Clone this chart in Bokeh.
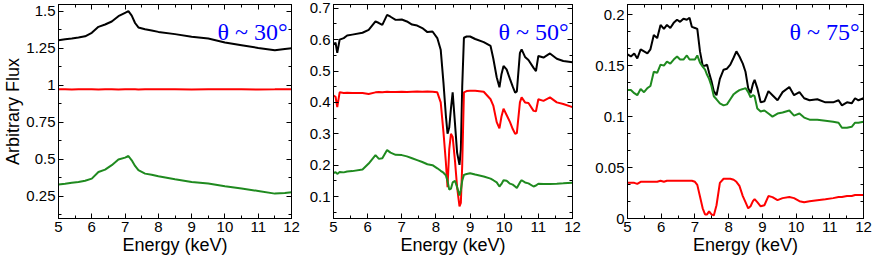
import numpy as np
from bokeh.plotting import figure
from bokeh.layouts import row
from bokeh.models import Range1d, LinearAxis, FixedTicker, Label, CustomJSTickFormatter
from bokeh.embed import file_html
from bokeh.resources import INLINE

# ---------------- data ----------------
# Panel 1: theta ~ 30 deg
energy_30 = [5.0, 5.2, 5.4, 5.6, 5.8, 6.0, 6.2, 6.4, 6.6, 6.8, 7.0, 7.1, 7.2, 7.3, 7.4,
             7.6, 7.8, 8.0, 8.5, 9.0, 9.5, 10.0, 10.5, 11.0, 11.5, 11.8, 12.0]
black_30 = [1.304, 1.31, 1.315, 1.322, 1.33, 1.354, 1.394, 1.41, 1.43, 1.466, 1.489, 1.5, 1.47,
            1.42, 1.39, 1.378, 1.37, 1.36, 1.345, 1.327, 1.315, 1.288, 1.27, 1.252, 1.236, 1.245, 1.25]
red_30 = [0.972, 0.973, 0.971, 0.972, 0.973, 0.972, 0.971, 0.972, 0.973, 0.971, 0.972, 0.972, 0.973,
          0.972, 0.971, 0.972, 0.973, 0.972, 0.972, 0.971, 0.972, 0.973, 0.972, 0.971, 0.972, 0.973, 0.972]
green_30 = [0.329, 0.335, 0.342, 0.347, 0.355, 0.369, 0.414, 0.43, 0.46, 0.498, 0.511, 0.522, 0.493,
            0.455, 0.426, 0.403, 0.395, 0.385, 0.365, 0.347, 0.336, 0.318, 0.302, 0.286, 0.268, 0.272, 0.277]

# Panel 2: theta ~ 50 deg
energy_50 = [5.0, 5.06, 5.11, 5.18, 5.3, 5.4, 5.55, 5.85, 6.03, 6.23, 6.33, 6.43, 6.57, 6.67, 6.82,
             7.0, 7.15, 7.3, 7.45, 7.6, 7.75, 7.9, 8.04, 8.14, 8.22, 8.29, 8.34, 8.39, 8.44, 8.49,
             8.56, 8.62, 8.69, 8.73, 8.77, 8.82, 8.9, 9.0, 9.15, 9.4, 9.6, 9.68, 9.78, 9.86, 9.92,
             9.98, 10.07, 10.17, 10.25, 10.32, 10.37, 10.46, 10.51, 10.61, 10.71, 10.86, 10.93,
             11.0, 11.15, 11.34, 11.54, 11.73, 12.0]
black_50 = [0.585, 0.59, 0.558, 0.60, 0.605, 0.613, 0.616, 0.622, 0.631, 0.658, 0.653, 0.647, 0.679,
            0.673, 0.663, 0.664, 0.658, 0.648, 0.645, 0.637, 0.624, 0.626, 0.605, 0.568, 0.464,
            0.359, 0.30, 0.32, 0.38, 0.432, 0.33, 0.24, 0.201, 0.25, 0.45, 0.606, 0.61, 0.61,
            0.602, 0.592, 0.58, 0.54, 0.48, 0.448, 0.49, 0.516, 0.505, 0.474, 0.45, 0.431, 0.435,
            0.558, 0.569, 0.545, 0.535, 0.51, 0.50, 0.548, 0.543, 0.556, 0.539, 0.532, 0.528]
red_50 = [0.422, 0.418, 0.385, 0.432, 0.43, 0.431, 0.43, 0.43, 0.427, 0.432, 0.433, 0.432, 0.434,
          0.433, 0.433, 0.434, 0.433, 0.434, 0.435, 0.434, 0.435, 0.434, 0.432, 0.40, 0.306, 0.211,
          0.13, 0.25, 0.30, 0.29, 0.211, 0.13, 0.069, 0.08, 0.20, 0.432, 0.436, 0.437, 0.437, 0.434,
          0.41, 0.39, 0.337, 0.317, 0.355, 0.38, 0.36, 0.337, 0.315, 0.30, 0.302, 0.40, 0.416, 0.40,
          0.398, 0.373, 0.372, 0.41, 0.405, 0.416, 0.40, 0.395, 0.385]
green_50 = [0.175, 0.178, 0.172, 0.178, 0.177, 0.18, 0.181, 0.186, 0.205, 0.232, 0.22, 0.222, 0.248,
            0.24, 0.233, 0.232, 0.228, 0.222, 0.216, 0.21, 0.203, 0.2, 0.19, 0.182, 0.176, 0.168,
            0.15, 0.122, 0.125, 0.145, 0.15, 0.13, 0.103, 0.12, 0.15, 0.169, 0.172, 0.174, 0.17,
            0.164, 0.157, 0.152, 0.145, 0.132, 0.14, 0.152, 0.15, 0.141, 0.138, 0.132, 0.127, 0.145,
            0.152, 0.145, 0.142, 0.132, 0.135, 0.141, 0.14, 0.14, 0.141, 0.142, 0.144]

# Panel 3: theta ~ 75 deg
energy_75 = [5.0, 5.1, 5.2, 5.29, 5.39, 5.49, 5.59, 5.68, 5.78, 5.88, 5.98, 6.08, 6.17, 6.27, 6.37,
             6.47, 6.56, 6.66, 6.76, 6.84, 6.91, 7.0, 7.07, 7.15, 7.23, 7.3, 7.36, 7.42, 7.49, 7.56,
             7.64, 7.74, 7.85, 7.95, 8.05, 8.15, 8.23, 8.32, 8.42, 8.5, 8.58, 8.65, 8.72, 8.77, 8.85,
             8.95, 9.06, 9.18, 9.3, 9.45, 9.6, 9.8, 9.94, 10.1, 10.24, 10.4, 10.63, 10.87, 11.1,
             11.26, 11.36, 11.51, 11.65, 11.75, 11.85, 12.0]
black_75 = [0.161, 0.159, 0.162, 0.157, 0.166, 0.164, 0.162, 0.166, 0.18, 0.177, 0.19, 0.186, 0.19,
            0.187, 0.192, 0.195, 0.193, 0.196, 0.195, 0.197, 0.188, 0.187, 0.186, 0.164, 0.15, 0.15,
            0.151, 0.143, 0.135, 0.125, 0.121, 0.137, 0.146, 0.147, 0.151, 0.158, 0.164, 0.159,
            0.152, 0.144, 0.128, 0.123, 0.132, 0.136, 0.128, 0.114, 0.115, 0.125, 0.121, 0.116,
            0.124, 0.129, 0.121, 0.124, 0.118, 0.116, 0.117, 0.114, 0.114, 0.116, 0.111, 0.114,
            0.113, 0.118, 0.116, 0.118]
green_75 = [0.126, 0.126, 0.123, 0.121, 0.127, 0.124, 0.128, 0.13, 0.144, 0.143, 0.151, 0.15, 0.154,
            0.152, 0.156, 0.159, 0.156, 0.156, 0.16, 0.156, 0.156, 0.156, 0.16, 0.153, 0.149, 0.146,
            0.141, 0.137, 0.13, 0.12, 0.117, 0.113, 0.111, 0.112, 0.117, 0.122, 0.124, 0.126, 0.127,
            0.128, 0.124, 0.119, 0.121, 0.12, 0.108, 0.105, 0.106, 0.103, 0.10, 0.103, 0.104, 0.106,
            0.101, 0.103, 0.099, 0.097, 0.097, 0.096, 0.095, 0.094, 0.089, 0.089, 0.09, 0.094,
            0.094, 0.095]
red_75 = [0.035, 0.035, 0.035, 0.034, 0.036, 0.036, 0.036, 0.036, 0.036, 0.036, 0.037, 0.036, 0.037,
          0.037, 0.037, 0.037, 0.037, 0.037, 0.037, 0.037, 0.037, 0.036, 0.033, 0.0215, 0.01, 0.004,
          0.004, 0.007, 0.004, 0.003, 0.013, 0.035, 0.039, 0.039, 0.039, 0.038, 0.036, 0.032, 0.022,
          0.016, 0.01, 0.012, 0.017, 0.019, 0.016, 0.012, 0.013, 0.022, 0.021, 0.018, 0.02, 0.021,
          0.02, 0.017, 0.016, 0.017, 0.018, 0.019, 0.02, 0.021, 0.021, 0.022, 0.022, 0.023, 0.023,
          0.023]

titles = ["\u03b8 ~ 30\u00b0", "\u03b8 ~ 50\u00b0", "\u03b8 ~ 75\u00b0"]
y_ranges = [(0.1, 1.545), (0.03, 0.712), (0.0, 0.21)]
y_ticks = [[0.25, 0.5, 0.75, 1.0, 1.25, 1.5],
           [0.1, 0.2, 0.3, 0.4, 0.5, 0.6, 0.7],
           [0.0, 0.05, 0.1, 0.15, 0.2]]
y_minor_steps = [0.125, 0.05, 0.05 / 3]
x_ticks = [5, 6, 7, 8, 9, 10, 11, 12]

FONT = "Liberation Sans"
C_BLACK = "#000000"
C_RED = "#FF0000"
C_GREEN = "#1F8A1F"

fmt_js = "return String(parseFloat(tick.toFixed(4)));"

widths = [305, 287, 280]
borders = [(52, 14), (28, 20), (33, 9)]
H = 262


def style_axis(ax, show_labels):
    ax.axis_line_color = "black"
    ax.axis_line_width = 1
    ax.major_tick_in = 5
    ax.major_tick_out = 0
    ax.minor_tick_in = 3
    ax.minor_tick_out = 0
    ax.major_tick_line_color = "black"
    ax.minor_tick_line_color = "black"
    if show_labels:
        ax.major_label_text_font = FONT
        ax.major_label_text_font_size = "15px"
        ax.major_label_text_color = "black"
        ax.major_label_standoff = 3
        ax.formatter = CustomJSTickFormatter(code=fmt_js)
    else:
        ax.major_label_text_font_size = "1px"
        ax.major_label_standoff = 0
        ax.formatter = CustomJSTickFormatter(code="return '';")


panels = [(energy_30, black_30, red_30, green_30),
          (energy_50, black_50, red_50, green_50),
          (energy_75, black_75, red_75, green_75)]

figs = []
for i, (E, blk, red, grn) in enumerate(panels):
    y0, y1 = y_ranges[i]
    p = figure(width=widths[i], height=H, x_range=Range1d(5, 12), y_range=Range1d(y0, y1),
               output_backend="svg", toolbar_location=None,
               min_border_left=borders[i][0], min_border_right=borders[i][1],
               min_border_top=4, min_border_bottom=44)
    p.xgrid.visible = False
    p.ygrid.visible = False
    p.outline_line_color = "black"
    p.outline_line_width = 1
    p.background_fill_color = "white"
    p.border_fill_color = "white"

    yt = y_ticks[i]
    step = y_minor_steps[i]
    yminor = list(np.arange(0.0, y1 + 1e-9, step))
    xminor = list(np.arange(5.0, 12.01, 0.5))
    xt = FixedTicker(ticks=x_ticks, minor_ticks=xminor)
    ytk = FixedTicker(ticks=yt, minor_ticks=yminor)

    p.xaxis.ticker = xt
    p.yaxis.ticker = ytk
    style_axis(p.xaxis[0], True)
    style_axis(p.yaxis[0], True)
    p.xaxis.axis_label = "Energy (keV)"
    p.xaxis.axis_label_text_font = FONT
    p.xaxis.axis_label_text_font_size = "18px"
    p.xaxis.axis_label_text_font_style = "normal"
    p.xaxis.axis_label_text_color = "black"
    p.xaxis.axis_label_standoff = 0
    if i == 0:
        p.yaxis.axis_label = "Arbitrary Flux"
        p.yaxis.axis_label_text_font = FONT
        p.yaxis.axis_label_text_font_size = "18px"
        p.yaxis.axis_label_text_font_style = "normal"
        p.yaxis.axis_label_text_color = "black"
        p.yaxis.axis_label_standoff = 0

    top = LinearAxis(ticker=FixedTicker(ticks=x_ticks, minor_ticks=xminor))
    right = LinearAxis(ticker=FixedTicker(ticks=yt, minor_ticks=yminor))
    style_axis(top, False)
    style_axis(right, False)
    p.add_layout(top, "above")
    p.add_layout(right, "right")

    p.line(E, blk, line_color=C_BLACK, line_width=2)
    p.line(E, red, line_color=C_RED, line_width=2)
    p.line(E, grn, line_color=C_GREEN, line_width=2)

    p.add_layout(Label(x=12, y=y1, text=titles[i], text_align="right",
                       text_baseline="alphabetic", x_offset=-4, y_offset=-27,
                       text_font="Liberation Serif", text_font_size="24px",
                       text_color="#0000FF"))
    figs.append(p)

layout = row(*figs)
open("out.html", "w").write(file_html(layout, INLINE))
